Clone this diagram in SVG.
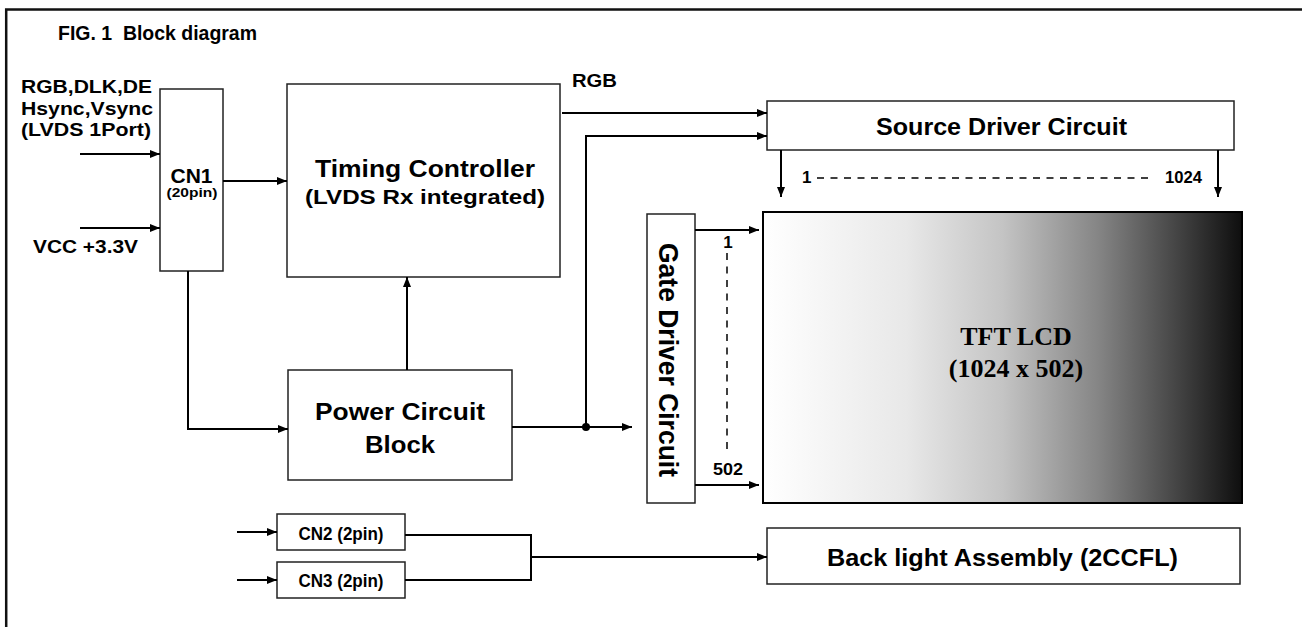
<svg xmlns="http://www.w3.org/2000/svg" width="1302" height="627" viewBox="0 0 1302 627">
<style>
.box{fill:#fff;stroke:#222;stroke-width:1.5}
.t{font-family:"Liberation Sans",Arial,sans-serif;font-weight:bold;fill:#000}
.m{text-anchor:middle}
.w{stroke:#000;stroke-width:2;fill:none}
.ar{stroke:#000;stroke-width:2;fill:none;marker-end:url(#ah)}
.dash{stroke:#000;stroke-width:1.5;fill:none;stroke-dasharray:7 6.5}
</style>
<defs>
<marker id="ah" viewBox="0 0 10 8" refX="10" refY="4" markerWidth="10" markerHeight="8" markerUnits="userSpaceOnUse" orient="auto">
<path d="M0,0 L10,4 L0,8 Z" fill="#000"/>
</marker>
<linearGradient id="lcd" x1="0" y1="0" x2="1" y2="0">
<stop offset="0" stop-color="#ffffff"/>
<stop offset="0.3" stop-color="#e8e8e8"/>
<stop offset="0.5" stop-color="#c4c4c4"/>
<stop offset="0.7" stop-color="#858585"/>
<stop offset="0.85" stop-color="#4a4a4a"/>
<stop offset="1" stop-color="#0e0e0e"/>
</linearGradient>
</defs>
<rect width="1302" height="627" fill="#fff"/>
<path d="M6.2,627 V9.6 H1302" stroke="#111" stroke-width="2.5" fill="none"/>
<text class="t" x="58" y="40" font-size="21" textLength="199" lengthAdjust="spacingAndGlyphs" xml:space="preserve">FIG. 1  Block diagram</text>

<g id="inputs">
<text class="t" x="21" y="93" font-size="18" textLength="131" lengthAdjust="spacingAndGlyphs">RGB,DLK,DE</text>
<text class="t" x="21" y="115" font-size="18" textLength="132" lengthAdjust="spacingAndGlyphs">Hsync,Vsync</text>
<text class="t" x="21" y="136" font-size="18" textLength="130" lengthAdjust="spacingAndGlyphs">(LVDS 1Port)</text>
<text class="t" x="33" y="253" font-size="18" textLength="105" lengthAdjust="spacingAndGlyphs">VCC +3.3V</text>
</g>

<g id="cn1">
<rect class="box" x="160" y="89" width="63" height="182"/>
<text class="t m" x="191.5" y="183" font-size="20" textLength="42" lengthAdjust="spacingAndGlyphs">CN1</text>
<text class="t m" x="192" y="197" font-size="13" textLength="51" lengthAdjust="spacingAndGlyphs">(20pin)</text>
</g>

<g id="timing">
<rect class="box" x="287" y="84" width="273" height="193"/>
<text class="t m" x="425" y="177" font-size="24" textLength="220" lengthAdjust="spacingAndGlyphs">Timing Controller</text>
<text class="t m" x="425" y="204" font-size="21" textLength="240" lengthAdjust="spacingAndGlyphs">(LVDS Rx integrated)</text>
</g>

<g id="power">
<rect class="box" x="288" y="370" width="224" height="110"/>
<text class="t m" x="400" y="420" font-size="24" textLength="170" lengthAdjust="spacingAndGlyphs">Power Circuit</text>
<text class="t m" x="400" y="453" font-size="24" textLength="70" lengthAdjust="spacingAndGlyphs">Block</text>
</g>

<g id="source">
<rect class="box" x="767" y="101" width="467" height="49"/>
<text class="t m" x="1001.5" y="135" font-size="24" textLength="251" lengthAdjust="spacingAndGlyphs">Source Driver Circuit</text>
</g>

<g id="gate">
<rect class="box" x="647" y="214" width="48" height="289"/>
<text class="t m" transform="translate(659,360) rotate(90)" x="0" y="0" font-size="28" textLength="234" lengthAdjust="spacingAndGlyphs">Gate Driver Circuit</text>
</g>

<g id="lcd">
<rect x="763" y="212" width="479" height="291" fill="url(#lcd)" stroke="#000" stroke-width="2"/>
<text x="1016" y="345" font-family="'Liberation Serif','Times New Roman',serif" font-weight="bold" font-size="26" text-anchor="middle">TFT LCD</text>
<text x="1016" y="377" font-family="'Liberation Serif','Times New Roman',serif" font-weight="bold" font-size="26" text-anchor="middle">(1024 x 502)</text>
</g>

<g id="cn2">
<rect class="box" x="277" y="514" width="128" height="36"/>
<text class="t m" x="341" y="540" font-size="19" textLength="85" lengthAdjust="spacingAndGlyphs">CN2 (2pin)</text>
</g>
<g id="cn3">
<rect class="box" x="277" y="562" width="128" height="36"/>
<text class="t m" x="341" y="587" font-size="19" textLength="85" lengthAdjust="spacingAndGlyphs">CN3 (2pin)</text>
</g>

<g id="backlight">
<rect class="box" x="767" y="528" width="473" height="56"/>
<text class="t m" x="1002.5" y="566" font-size="24" textLength="351" lengthAdjust="spacingAndGlyphs">Back light Assembly (2CCFL)</text>
</g>

<g id="connectors">
<path class="ar" d="M80,154 H160"/>
<path class="ar" d="M80,228 H160"/>
<path class="ar" d="M223,181 H287"/>
<path class="ar" d="M188,271 V429 H288"/>
<path class="ar" d="M407,370 V277"/>
<path class="ar" d="M512,427 H632"/>
<circle cx="586" cy="427" r="4" fill="#000"/>
<path class="ar" d="M586,427 V136 H767"/>
<path class="ar" d="M562,113 H767"/>
<text class="t" x="572" y="87" font-size="19" textLength="45" lengthAdjust="spacingAndGlyphs">RGB</text>
<path class="ar" d="M781,150 V197"/>
<path class="ar" d="M1218,150 V197"/>
<text class="t" x="802" y="183" font-size="17">1</text>
<path class="dash" d="M817,178 H1148"/>
<text class="t" x="1165" y="183" font-size="17" textLength="37" lengthAdjust="spacingAndGlyphs">1024</text>
<path class="ar" d="M695,230 H759"/>
<path class="ar" d="M695,485 H759"/>
<text class="t m" x="728" y="248" font-size="17">1</text>
<path class="dash" d="M727,253 V452"/>
<text class="t m" x="728" y="475" font-size="17" textLength="30" lengthAdjust="spacingAndGlyphs">502</text>
<path class="ar" d="M237,532 H277"/>
<path class="ar" d="M237,580 H277"/>
<path class="w" d="M405,535 H531 V580 H405"/>
<path class="ar" d="M531,557 H767"/>
</g>
</svg>
